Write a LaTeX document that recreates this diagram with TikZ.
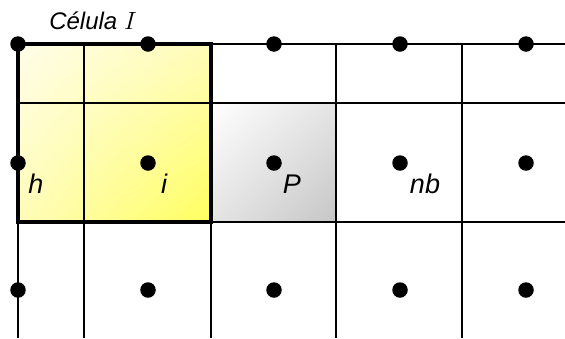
\documentclass[tikz,border=0pt]{standalone}
\usepackage{fontspec}
\setsansfont{Liberation Sans}
\usepackage{tikz}
\tikzset{x=1pt,y=-1pt}
\usetikzlibrary{shadings}
\definecolor{celllight}{RGB}{255,253,232}
\definecolor{cellmid}{RGB}{255,252,185}
\definecolor{celldeep}{RGB}{255,255,95}
\definecolor{pgrey}{RGB}{198,198,198}
\definecolor{pmid}{RGB}{228,228,228}
\tikzset{
  gridline/.style={line width=1.8pt},
  cellborder/.style={line width=4.5pt},
  dot/.style={circle,fill=black,inner sep=0pt,minimum size=15.5pt},
  lbl/.style={font=\fontsize{27}{27}\selectfont\sffamily\itshape,anchor=base,inner sep=0pt}
}
\def\xs{18,84,211,336,462}
\def\ys{44,103,222}

\begin{document}
\begin{tikzpicture}
\useasboundingbox (0,0) rectangle (565,338);
    % control volume and P cell
    \shade[upper left=celllight,upper right=cellmid,lower left=cellmid,lower right=celldeep]
      (18,44) rectangle (211,222);
    \shade[upper left=white,upper right=pmid,lower left=pmid,lower right=pgrey]
      (211,103) rectangle (336,222);
    % grid
    \foreach \y in \ys
      \draw[gridline] (18,\y) -- (565,\y);
    \foreach \x in \xs
      \draw[gridline] (\x,44) -- (\x,338);
    \draw[cellborder] (18,44) rectangle (211,222);
    % nodes
    \foreach \x [count=\k] in {18,148,274,400,526}
      \foreach \y [count=\j] in {44,163,290}
        \node[dot] (d\k\j) at (\x,\y) {};
    \node[lbl,font=\fontsize{24}{24}\selectfont\sffamily\itshape] (cel) at (93,29) {Célula $I$};
    \node[lbl] (h) at (36,193) {h};
    \node[lbl] (i) at (164,193) {i};
    \node[lbl] (P) at (292,193) {P};
    \node[lbl] (nb) at (425,193) {nb};
\end{tikzpicture}
\end{document}
